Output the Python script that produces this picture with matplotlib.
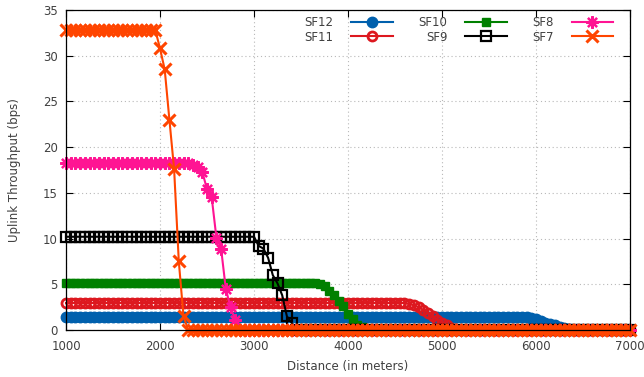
import matplotlib
matplotlib.use('Agg')
import matplotlib.pyplot as plt

# distance grid (m) and uplink throughput (bps) per spreading factor
distance = list(range(1000, 7001, 50))

sf12 = [1.4] * 99 + [1.3, 1.15, 0.95, 0.8, 0.65, 0.5, 0.35, 0.25, 0.12] + [0.0] * 13
sf11 = [2.95] * 73 + [2.85, 2.7, 2.5, 2.2, 1.9, 1.5, 1.1, 0.8, 0.5, 0.25, 0.1] + [0.0] * 37
sf10 = [5.15] * 53 + [5.1, 5.0, 4.8, 4.3, 3.8, 3.2, 2.6, 1.8, 1.2, 0.6, 0.3, 0.1] + [0.0] * 56
sf9 = [10.2] * 41 + [9.2, 8.9, 7.9, 6.0, 5.1, 3.8, 1.5, 0.8] + [0.0] * 72
sf8 = [18.3] * 27 + [18.1, 17.8, 17.3, 15.4, 14.5, 10.1, 8.9, 4.5, 2.5, 1.1] + [0.0] * 84
sf7 = [32.8] * 20 + [30.8, 28.5, 23.0, 17.6, 7.5, 1.5] + [0.0] * 95

labels = ['SF12', 'SF11', 'SF10', 'SF9', 'SF8', 'SF7']
values = [sf12, sf11, sf10, sf9, sf8, sf7]
colors = ['#0060ad', '#dd181f', '#008000', 'black', '#ff1493', '#ff4500']
markers = ['o', 'o', 's', 's', (8, 2, 0), 'x']
msizes = [7.5, 6.5, 6.2, 7, 9, 8]
filled = [True, False, True, False, True, True]
mews = [1, 2, 1, 1.6, 1.6, 2.2]

plt.rcParams['font.family'] = 'DejaVu Sans'
fig = plt.figure(figsize=(6.44, 3.77), dpi=100)
ax = fig.add_axes([66 / 644, 47 / 377, 564 / 644, 320 / 377])

for lab, y, c, m, ms, f, mew in zip(labels, values, colors, markers, msizes, filled, mews):
    ax.plot(distance, y, color=c, lw=1.5, marker=m, ms=ms, mew=mew,
            mfc=c if f else 'none', mec=c, label=lab, clip_on=False)

ax.set_xlim(1000, 7000)
ax.set_ylim(0, 35)
ax.set_xticks(range(1000, 7001, 1000))
ax.set_yticks(range(0, 36, 5))
ax.set_axisbelow(True)
ax.grid(True, color='#b8b8b8', lw=0.8, linestyle=(0, (1, 2.5)))
ax.tick_params(direction='in', top=True, right=True, length=5, width=0.8,
               labelsize=8.5, labelcolor='#404040')
ax.tick_params(axis='x', pad=7)
ax.tick_params(axis='y', pad=6)
for s in ax.spines.values():
    s.set_linewidth(0.9)

ax.set_xlabel('Distance (in meters)', fontsize=8.5, color='#404040')
ax.set_ylabel('Uplink Throughput (bps)', fontsize=8.5, color='#404040')
ax.xaxis.set_label_coords(0.5, -0.094)
ax.yaxis.set_label_coords(-0.08, 0.5)

leg = ax.legend(loc='upper right', bbox_to_anchor=(0.97, 0.98), ncol=3,
                markerfirst=False, frameon=False, fontsize=8.5,
                handlelength=3.5, handletextpad=1.5, columnspacing=2.2,
                labelspacing=0.1, borderpad=0, borderaxespad=0)
for t in leg.get_texts():
    t.set_color('#404040')

fig.savefig('out.png', dpi=100)
